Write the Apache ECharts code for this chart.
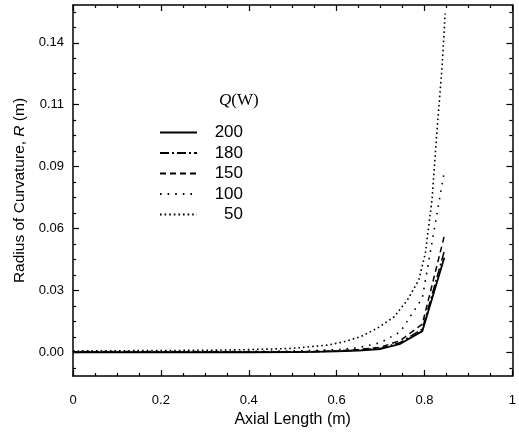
<!DOCTYPE html>
<html>
<head>
<meta charset="utf-8">
<script src="https://cdn.jsdelivr.net/npm/echarts@6/dist/echarts.min.js"></script>
<style>
html,body{margin:0;padding:0;background:#fff;}
#chart{width:519px;height:441px;}
</style>
</head>
<body>
<div id="chart"></div>
<script>
// ---- data ----
const seriesNames = ['200', '180', '150', '100', '50'];

const x200 = [0, 0.1, 0.2, 0.3, 0.4, 0.5, 0.55, 0.6, 0.65, 0.7, 0.745, 0.795, 0.845];
const y200 = [0.0001, 0.0001, 0.0001, 0.0001, 0.0001, 0.0002, 0.0003, 0.0005, 0.0009, 0.0016, 0.0040, 0.0098, 0.0435];

const x180 = [0, 0.1, 0.2, 0.3, 0.4, 0.5, 0.55, 0.6, 0.65, 0.7, 0.745, 0.795, 0.845];
const y180 = [0.0001, 0.0001, 0.0001, 0.0001, 0.0002, 0.0003, 0.0004, 0.0006, 0.0011, 0.0019, 0.0046, 0.0108, 0.0465];

const x150 = [0, 0.1, 0.2, 0.3, 0.4, 0.5, 0.55, 0.6, 0.65, 0.7, 0.745, 0.795, 0.845];
const y150 = [0.0002, 0.0002, 0.0002, 0.0002, 0.0002, 0.0003, 0.0005, 0.0007, 0.0014, 0.0024, 0.0055, 0.0130, 0.0535];

const x100 = [0, 0.1, 0.2, 0.3, 0.4, 0.5, 0.55, 0.6, 0.65, 0.7, 0.745, 0.795, 0.845];
const y100 = [0.0004, 0.0004, 0.0004, 0.0004, 0.0005, 0.0007, 0.0009, 0.0013, 0.0022, 0.0045, 0.0095, 0.0250, 0.0830];

const x50 = [0, 0.1, 0.2, 0.3, 0.4, 0.5, 0.58, 0.618, 0.655, 0.693, 0.731, 0.761, 0.787, 0.802, 0.817, 0.828, 0.840, 0.847];
const y50 = [0.0007, 0.0008, 0.0009, 0.0010, 0.0013, 0.0019, 0.0034, 0.0050, 0.0073, 0.0112, 0.0164, 0.0241, 0.0333, 0.0457, 0.0700, 0.1008, 0.1312, 0.1557];

const xTickValues = [0, 0.2, 0.4, 0.6, 0.8, 1];
const xTickLabels = ['0', '0.2', '0.4', '0.6', '0.8', '1'];
const yTickValues = [0, 0.02845, 0.0569, 0.08535, 0.1138, 0.14225];
const yTickLabels = ['0.00', '0.03', '0.06', '0.09', '0.11', '0.14'];
const yMin = -0.0108, yMax = 0.1596;
const xMin = 0, xMax = 1;

// ---- chart ----
const chart = echarts.init(document.getElementById('chart'), null, {renderer: 'canvas'});
const font = 'Liberation Sans, Arial, sans-serif';
const black = '#000';

const yStep = yTickValues[1] - yTickValues[0];
const yMinor = [];
for (let k = -4; k <= 30; k++) {
  const v = k * yStep / 4;
  if (k % 4 !== 0 && v > yMin && v < yMax) yMinor.push(v);
}

function pairs(xs, ys) { return xs.map((x, i) => [x, ys[i]]); }
function labelFor(vals, labels, v) {
  let best = 0;
  for (let i = 1; i < vals.length; i++) if (Math.abs(vals[i] - v) < Math.abs(vals[best] - v)) best = i;
  return labels[best];
}

const axisLineStyle = {color: black, width: 1.5};
const tickStyle = {color: black, width: 1.2};

function yAxisCfg(pos, major) {
  return {
    type: 'value', position: pos, min: yMin, max: yMax, offset: 0,
    axisLine: {show: major, onZero: false, lineStyle: axisLineStyle},
    axisTick: {show: true, inside: true, length: major ? 6 : 3, customValues: major ? yTickValues : yMinor, lineStyle: tickStyle},
    axisLabel: (major && pos === 'left') ? {
      show: true, customValues: yTickValues, margin: 9, color: black, fontSize: 13, fontFamily: font,
      formatter: v => labelFor(yTickValues, yTickLabels, v)
    } : {show: false},
    splitLine: {show: false}
  };
}

const yAxes = [yAxisCfg('left', true), yAxisCfg('left', false), yAxisCfg('right', true), yAxisCfg('right', false)];
yAxes[0].name = 'Radius of Curvature, {i|R} (m)';
yAxes[0].nameLocation = 'middle';
yAxes[0].nameGap = 45;
yAxes[0].nameTextStyle = {
  color: black, fontSize: 15.5, fontFamily: font,
  rich: {i: {fontStyle: 'italic', fontSize: 15.5, fontFamily: font, color: black}}
};

function xAxisCfg(pos) {
  return {
    type: 'value', position: pos, min: xMin, max: xMax, interval: 0.2,
    axisLine: {show: true, onZero: false, lineStyle: axisLineStyle},
    axisTick: {show: true, inside: true, length: 6, lineStyle: tickStyle},
    minorTick: {show: true, splitNumber: 4, length: 3, lineStyle: tickStyle},
    axisLabel: pos === 'bottom' ? {
      show: true, margin: 18, color: black, fontSize: 13, fontFamily: font,
      formatter: v => labelFor(xTickValues, xTickLabels, v)
    } : {show: false},
    splitLine: {show: false}, minorSplitLine: {show: false}
  };
}
const xAxes = [xAxisCfg('bottom'), xAxisCfg('top')];
xAxes[0].name = 'Axial Length (m)';
xAxes[0].nameLocation = 'middle';
xAxes[0].nameGap = 33;
xAxes[0].nameTextStyle = {color: black, fontSize: 16, fontFamily: font};

const styles = {
  '200': {type: 'solid', width: 1.8},
  '180': {type: [9, 3, 2, 3], width: 1.5},
  '150': {type: [6, 4], width: 1.5},
  '100': {type: [1.6, 6], width: 1.6},
  '50':  {type: [1.6, 3], width: 1.6}
};
const dataMap = {
  '200': pairs(x200, y200),
  '180': pairs(x180, y180),
  '150': pairs(x150, y150),
  '100': pairs(x100, y100),
  '50':  pairs(x50, y50)
};

const series = seriesNames.map(n => ({
  name: n, type: 'line', xAxisIndex: 0, yAxisIndex: 0,
  data: dataMap[n], showSymbol: false, symbol: 'none', smooth: false,
  lineStyle: Object.assign({color: black}, styles[n]),
  itemStyle: {color: black},
  animation: false
}));

chart.setOption({
  animation: false,
  backgroundColor: '#fff',
  grid: {left: 73, right: 3, top: 5, bottom: 65, containLabel: false},
  xAxis: xAxes,
  yAxis: yAxes,
  legend: {
    show: true, orient: 'vertical', left: 154, top: 119,
    itemWidth: 37, itemHeight: 14, itemGap: 3.5,
    selectedMode: false,
    itemStyle: {color: 'rgba(0,0,0,0)', borderWidth: 0, opacity: 0},
    data: seriesNames.map(n => ({name: n})),
    formatter: n => '{a|' + n + '}',
    textStyle: {color: black, fontSize: 17, fontFamily: font,
      rich: {a: {width: 41, align: 'right', fontSize: 17, fontFamily: font, color: black}}}
  },
  graphic: [{
    type: 'text', left: 219, top: 92,
    style: {
      text: '{q|Q}(W)', fill: black, font: '17px "Liberation Serif", serif',
      rich: {q: {fontStyle: 'italic', fontSize: 17, fontFamily: 'Liberation Serif', fill: black}}
    }
  }],
  series: series
});
</script>
</body>
</html>
